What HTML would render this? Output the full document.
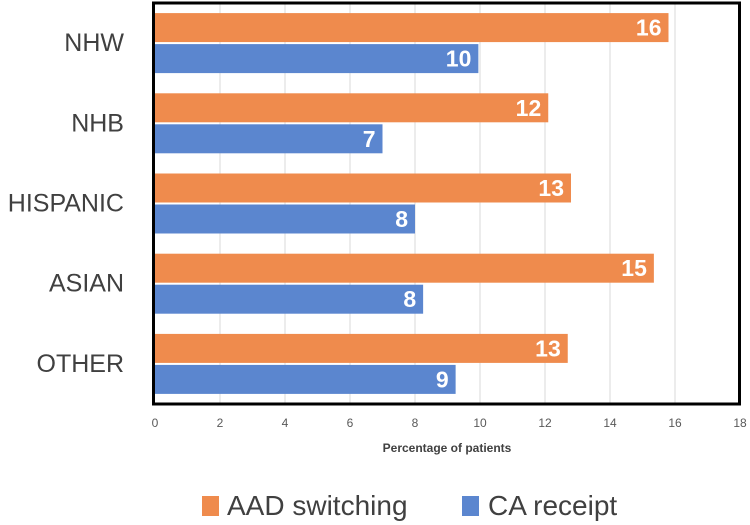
<!DOCTYPE html>
<html><head><meta charset="utf-8"><style>
body{margin:0;background:#fff;}
svg{display:block;font-family:"Liberation Sans",sans-serif;}
</style></head><body>
<svg id="chart" width="750" height="525"></svg>
<script>
const categories = ["NHW","NHB","HISPANIC","ASIAN","OTHER"];
const aadValues = [15.8, 12.1, 12.8, 15.35, 12.7];
const caValues = [9.95, 7.0, 8.0, 8.25, 9.25];
const aadLabels = ["16","12","13","15","13"];
const caLabels = ["10","7","8","8","9"];
const xTicks = [0,2,4,6,8,10,12,14,16,18];

const NS="http://www.w3.org/2000/svg";
const svg=document.getElementById('chart');
const L=155, R=740, T=3, B=404, XMAX=18;
const x=v=>L+(v/XMAX)*(R-L);
const band=(B-T)/categories.length;
const yc=i=>T+band*(i+0.5);
function mk(tag,attrs,parent){const e=document.createElementNS(NS,tag);for(const k in attrs)e.setAttribute(k,attrs[k]);(parent||svg).appendChild(e);return e;}

const grid=mk('g',{});


xTicks.forEach(t=>{
  if(t===0||t===XMAX)return;
  const l=mk('line',{x1:x(t),x2:x(t),y1:T,y2:B,stroke:'#d9d9d9','stroke-width':1},grid);
  
  
  const tl=mk('text',{x:x(t),y:427,'text-anchor':'middle','font-size':12,fill:'#595959'});
  tl.textContent=t;
  
  
});
[0,XMAX].forEach(t=>{
  const tl=mk('text',{x:x(t),y:427,'text-anchor':'middle','font-size':12,fill:'#595959'});
  tl.textContent=t;
  
  
});

categories.forEach((c,i)=>{
  const cy=yc(i);
  const ob=mk('rect',{x:L,y:cy-30,width:x(aadValues[i])-L,height:29,fill:'#ef8b4d'});
  
  
  const bb=mk('rect',{x:L,y:cy+1,width:x(caValues[i])-L,height:29,fill:'#5b86cf'});
  
  
  const ot=mk('text',{x:x(aadValues[i])-7,y:cy-7.5,'text-anchor':'end','font-size':23,'font-weight':'bold',fill:'#fff'});
  ot.textContent=aadLabels[i];
  
  
  const bt=mk('text',{x:x(caValues[i])-7,y:cy+23.5,'text-anchor':'end','font-size':23,'font-weight':'bold',fill:'#fff'});
  bt.textContent=caLabels[i];
  
  
  const cl=mk('text',{x:124,y:cy+8,'text-anchor':'end','font-size':25,fill:'#404040'});
  cl.textContent=c;
  
  
});

const frame=mk('rect',{x:153.5,y:3,width:586,height:401,fill:'none',stroke:'#000','stroke-width':3});



const title=mk('text',{x:447,y:452,'text-anchor':'middle','font-size':12,'font-weight':'bold',fill:'#404040'});
title.textContent='Percentage of patients';



const lg=mk('g',{});


const s1=mk('rect',{x:202,y:496,width:17,height:20,fill:'#ef8b4d'},lg);


const t1=mk('text',{x:227,y:515,'font-size':28,fill:'#404040'},lg);
t1.textContent='AAD switching';


const s2=mk('rect',{x:462,y:496,width:17,height:20,fill:'#5b86cf'},lg);


const t2=mk('text',{x:488,y:515,'font-size':28,fill:'#404040'},lg);
t2.textContent='CA receipt';


</script>
</body></html>
